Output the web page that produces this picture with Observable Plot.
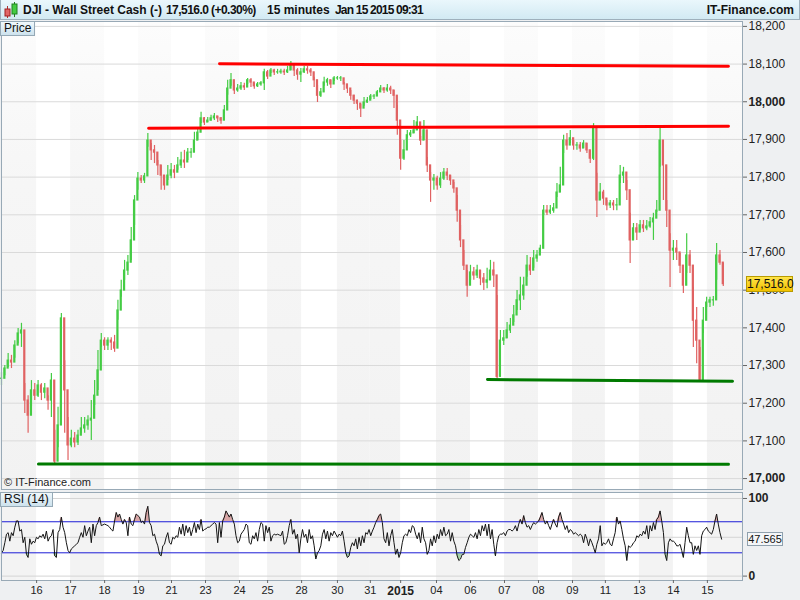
<!DOCTYPE html>
<html><head><meta charset="utf-8">
<script src="https://cdn.jsdelivr.net/npm/d3@7"></script>
<script src="https://cdn.jsdelivr.net/npm/@observablehq/plot@0.6"></script>
<style>
body{margin:0;background:#fff;}
#wrap{position:relative;width:800px;height:600px;overflow:hidden;background:#eef0f2;font-family:"Liberation Sans",Arial,sans-serif;color:#111;}
#title{position:absolute;left:0;top:0;width:798px;height:19px;border:1px solid #9eb0bc;border-top:none;background:linear-gradient(#eaf7fc,#d2eaf3);font-weight:bold;font-size:12px;}
#title span{position:absolute;top:3px;white-space:nowrap;}
.tag{position:absolute;font-size:12px;background:linear-gradient(#f0f8fc,#cde2ed);border:1px solid #95a9b6;padding:0 3px;line-height:13px;}
.abs{position:absolute;}
#pricebox{position:absolute;left:746px;width:45px;height:14px;background:linear-gradient(#ffe44a,#f2c200);border:1px solid #b89b00;font-size:12px;line-height:14px;text-align:center;}
#rsibox{position:absolute;left:747px;width:34px;height:12px;background:#f4f6f8;border:1px solid #8fa0ad;font-size:11px;line-height:12px;text-align:center;}
</style></head>
<body>
<div id="wrap">
  <div id="price" class="abs" style="left:0;top:20px"></div>
  <div id="rsi" class="abs" style="left:0;top:490px"></div>
  <div id="title">
    <svg class="abs" style="left:3px;top:2px" width="14" height="16">
      <line x1="3.5" y1="4" x2="3.5" y2="16" stroke="#b03030"/><rect x="1" y="7" width="5" height="7" fill="#e06666" stroke="#a02020"/>
      <line x1="10.5" y1="0" x2="10.5" y2="15" stroke="#208020"/><rect x="8" y="2" width="5" height="10" fill="#44cc44" stroke="#208020"/>
    </svg>
    <span style="left:22px">DJI - Wall Street Cash (-)</span>
    <span style="left:165px;letter-spacing:-0.55px">17,516.0 (+0.30%)</span>
    <span style="left:266px">15 minutes</span>
    <span style="left:334px;letter-spacing:-0.8px">Jan 15 2015 09:31</span>
    <span style="right:5px">IT-Finance.com</span>
  </div>
  <div class="tag" style="left:0;top:21px">Price</div>
  <div class="abs" style="left:4px;top:476px;font-size:11px;color:#222">© IT-Finance.com</div>
  <div class="tag" style="left:0;top:492px">RSI (14)</div>
  <div id="pricebox">17,516.0</div>
  <div id="rsibox">47.565</div>
</div>
<script>
// ---- data: 15-minute bars; price sampled every 9 bars, RSI every 4.5 bars ----
const sessionLabels = ["16","17","18","19","21","23","24","25","28","30","31","2015","04","06","07","08","09","11","13","14","15"];
const sessionStartBar = [95,187,279,371,460,552,644,720,812,909,998,1080,1177,1269,1361,1453,1545,1634,1726,1818,1910];
const lastBar = 2005;
const sampleStep = 9;
const rsiStep = 4.5;
const closes = [17265,17292,17313,17308,17353,17385,17393,17207,17167,17234,
17220,17247,17228,17239,17207,17260,17045,17141,17425,17234,
17088,17106,17096,17114,17133,17141,17154,17159,17220,17287,
17366,17353,17366,17361,17345,17446,17499,17552,17573,17632,
17738,17796,17791,17802,17897,17871,17865,17831,17804,17778,
17804,17818,17812,17831,17844,17839,17865,17865,17897,17918,
17956,17945,17950,17956,17961,17956,17950,17977,18035,18057,
18030,18035,18041,18038,18057,18051,18041,18046,18049,18078,
18067,18083,18078,18078,18080,18078,18083,18099,18083,18072,
18078,18086,18083,18078,18057,18016,18025,18051,18057,18046,
18062,18062,18062,18046,18035,18016,18003,17995,17982,17998,
18003,18014,18014,18025,18035,18030,18035,18030,18016,17950,
17849,17871,17911,17916,17924,17945,17897,17924,17831,17791,
17796,17778,17796,17812,17804,17791,17770,17711,17632,17565,
17512,17547,17539,17552,17531,17520,17526,17552,17539,17270,
17366,17372,17393,17406,17433,17473,17486,17512,17565,17552,
17584,17592,17610,17711,17706,17711,17717,17759,17778,17897,
17884,17903,17884,17884,17876,17889,17871,17849,17929,17738,
17759,17743,17725,17730,17725,17725,17804,17812,17765,17632,
17664,17653,17672,17664,17669,17680,17690,17711,17897,17831,
17711,17605,17610,17600,17565,17512,17592,17565,17419,17366,
17262,17419,17467,17473,17473,17592,17573,17516];
const highs = [17281,17300,17332,17327,17366,17398,17412,17252,17220,17260,
17252,17260,17252,17252,17220,17279,17128,17189,17438,17313,
17162,17128,17122,17128,17162,17162,17167,17207,17260,17340,
17385,17374,17374,17374,17380,17473,17526,17579,17592,17666,
17751,17812,17804,17810,17916,17889,17884,17844,17831,17804,
17831,17836,17831,17852,17866,17871,17876,17876,17919,17929,
17972,17958,17958,17964,17969,17961,17958,17990,18057,18075,
18043,18046,18051,18049,18062,18062,18049,18051,18054,18086,
18083,18088,18086,18086,18086,18086,18094,18107,18099,18088,
18088,18094,18094,18088,18065,18043,18035,18065,18062,18057,
18067,18067,18067,18051,18043,18030,18017,18004,17993,18011,
18011,18019,18019,18030,18043,18038,18046,18041,18030,17990,
17897,17897,17924,17924,17950,17961,17908,17950,17852,17812,
17807,17802,17812,17823,17823,17804,17786,17751,17672,17605,
17552,17566,17560,17566,17552,17544,17558,17579,17574,17486,
17393,17393,17414,17425,17459,17499,17534,17534,17592,17587,
17605,17605,17619,17725,17725,17725,17730,17783,17826,17911,
17916,17924,17897,17892,17892,17897,17889,17871,17942,17810,
17783,17765,17738,17738,17738,17743,17831,17826,17791,17704,
17677,17677,17685,17685,17685,17693,17704,17738,17932,17871,
17738,17650,17632,17632,17597,17544,17650,17605,17507,17454,
17348,17454,17481,17481,17483,17624,17605,17571];
const lows = [17247,17273,17295,17292,17319,17358,17348,17173,17120,17189,
17207,17215,17207,17212,17181,17162,17040,17082,17321,17120,
17048,17082,17082,17088,17120,17120,17128,17101,17194,17234,
17348,17340,17340,17340,17335,17420,17481,17526,17539,17579,
17672,17765,17783,17783,17879,17844,17836,17804,17765,17765,
17791,17796,17796,17818,17823,17823,17844,17850,17884,17897,
17942,17937,17945,17948,17950,17945,17940,17969,18017,18041,
18019,18025,18030,18030,18046,18038,18033,18038,18041,18030,
18059,18075,18070,18073,18073,18070,18075,18083,18067,18057,
18051,18075,18073,18067,18038,17998,18011,18041,18041,18035,
18054,18057,18054,18030,18022,18004,17993,17977,17958,17988,
17996,18006,18006,18014,18030,18022,18025,18019,17982,17911,
17818,17844,17903,17905,17916,17924,17884,17897,17812,17733,
17765,17765,17770,17791,17791,17778,17757,17680,17613,17552,
17481,17526,17526,17531,17512,17499,17504,17526,17507,17265,
17327,17353,17372,17385,17414,17446,17446,17473,17534,17539,
17558,17574,17600,17698,17698,17701,17704,17746,17759,17863,
17871,17889,17871,17871,17866,17876,17863,17836,17844,17693,
17738,17725,17711,17717,17711,17711,17783,17783,17738,17571,
17632,17632,17658,17653,17658,17664,17632,17706,17826,17738,
17666,17507,17579,17579,17544,17491,17544,17544,17348,17305,
17255,17385,17454,17454,17457,17526,17566,17510];
const rsiValues = [30,33,43,54,56,45,56,52,63,71,
71,58,60,43,50,28,24,48,41,45,
43,50,48,52,50,54,48,58,45,50,
52,60,26,24,56,60,76,63,56,43,
33,30,35,37,39,41,43,50,56,50,
65,52,58,63,43,67,52,65,69,76,
65,66,67,66,65,63,60,58,71,82,
76,80,73,67,73,69,52,76,67,65,
73,80,78,76,69,71,67,82,90,69,
65,52,54,45,39,28,26,39,41,50,
56,43,41,50,48,52,50,63,54,67,
52,65,56,63,52,60,69,56,67,60,
73,58,60,61,63,63,65,67,69,67,
43,69,50,71,76,84,80,76,80,73,
67,52,43,45,54,57,60,67,65,43,
41,52,48,56,45,60,69,67,45,65,
56,63,45,52,54,53,54,53,52,58,
41,43,52,65,73,54,60,48,54,30,
48,60,50,54,43,60,48,52,39,22,
30,33,39,54,60,48,58,45,56,52,
58,54,50,54,52,58,45,30,24,26,
37,43,39,48,35,50,39,52,43,56,
54,60,
52,58,63,69,73,78,80,69,48,43,
56,39,52,60,43,28,35,24,30,43,
52,54,52,60,56,65,63,54,48,56,
43,63,48,43,28,33,48,39,52,43,
54,48,60,52,63,52,54,60,45,56,
45,39,26,20,22,28,28,37,43,50,
54,52,50,56,48,60,52,65,58,67,
52,67,48,60,41,26,43,52,54,54,
56,52,58,60,60,58,60,65,58,67,
73,67,78,69,63,65,60,65,69,67,
69,71,76,82,73,67,71,65,60,67,
73,67,63,76,82,73,67,60,65,56,
60,58,54,56,54,52,54,52,43,54,
48,39,48,43,37,30,41,48,65,39,
43,41,43,48,41,39,48,56,76,67,
71,60,48,39,20,39,37,39,43,45,
52,50,54,52,58,54,65,48,65,58,
69,60,73,76,84,71,56,28,20,43,
48,45,45,43,39,39,41,33,24,43,
63,52,43,43,28,39,33,39,28,52,
58,60,63,58,56,54,60,71,80,67,
56,47.565];
const lastPrice = 17516.0;
const priceTicks = [17100,17200,17300,17400,17500,17600,17700,17800,17900,18100,18200];
const priceTicksBold = [17000,18000];
// support / resistance lines: [bar, price]
const resistHigh = [[590,18101],[1967,18094]];
const resistLow = [[398,17930],[1967,17935]];
const supportHigh = [[1315,17263],[1978,17258]];
const supportLow = [[100,17039],[1967,17038]];
// shaded background per session (first entry: partial session before the first label)
const shadedBands = [true,false,true,false,true,false,true,false,true,false,true,true,false,true,false,true,false,true,false,true,false,true];

// ---- derived tables ----
const candles = closes.map((c,i)=>({bar:i*sampleStep, open: i? closes[i-1]: c, close:c, high:highs[i], low:lows[i]}));
const rsiData = rsiValues.map((v,i)=>({bar:i*rsiStep, v}));
const bounds = [0, ...sessionStartBar, lastBar];
const bands = [];
for (let k=0;k<bounds.length-1;k++) if (shadedBands[k]) bands.push({x1:bounds[k], x2:bounds[k+1]});
const labelOf = new Map(sessionStartBar.map((b,i)=>[b, sessionLabels[i]]));
const font = '"Liberation Sans", Arial, sans-serif';
const toPts = a => a.map(([bar,p])=>({bar,p}));
const upColor = "#44cc44", downColor = "#e06262";
const candleColor = d => d.close>=d.open?upColor:downColor;

const defs = () => {
  const d = d3.create("svg:defs");
  const g = d.append("linearGradient").attr("id","bandGrad").attr("x1",0).attr("y1",0).attr("x2",0).attr("y2",1);
  g.append("stop").attr("offset","0%").attr("stop-color","#fcfcfc");
  g.append("stop").attr("offset","35%").attr("stop-color","#f6f6f6");
  g.append("stop").attr("offset","100%").attr("stop-color","#f2f2f2");
  return d.node();
};

const priceChart = Plot.plot({
  width:800, height:470, marginTop:1, marginBottom:1, marginLeft:1, marginRight:58,
  style:{background:"transparent", fontFamily:font, fontSize:"12px", color:"#222"},
  x:{domain:[0,lastBar], axis:null},
  y:{domain:[16971,18213], axis:null},
  marks:[
    defs,
    Plot.frame({fill:"white", stroke:null}),
    Plot.rect(bands,{x1:"x1", x2:"x2", fill:"url(#bandGrad)"}),
    Plot.gridY([...priceTicks,...priceTicksBold],{stroke:"#dadada", strokeOpacity:1}),
    Plot.ruleX(candles,{x:"bar", y1:"low", y2:"high", stroke:candleColor, strokeWidth:1.2}),
    Plot.rect(candles,{x1:d=>d.bar-3, x2:d=>d.bar+3, y1:"open", y2:"close", insetTop:-0.6, insetBottom:-0.6, fill:candleColor}),
    Plot.line(toPts(resistHigh),{x:"bar", y:"p", stroke:"#ff0000", strokeWidth:3}),
    Plot.line(toPts(resistLow),{x:"bar", y:"p", stroke:"#ff0000", strokeWidth:3}),
    Plot.line(toPts(supportHigh),{x:"bar", y:"p", stroke:"#007a00", strokeWidth:3}),
    Plot.line(toPts(supportLow),{x:"bar", y:"p", stroke:"#007a00", strokeWidth:3}),
    Plot.frame({stroke:"#98a9b6"}),
    Plot.axisY(priceTicks,{anchor:"right", label:null, tickSize:4, tickPadding:2, tickFormat:d3.format(","), fontSize:12, stroke:"#666"}),
    Plot.axisY(priceTicksBold,{anchor:"right", label:null, tickSize:4, tickPadding:2, tickFormat:d3.format(","), fontSize:12, fontWeight:"bold", stroke:"#666"})
  ]
});
document.getElementById("price").append(priceChart);

const rsiChart = Plot.plot({
  width:800, height:110, marginTop:2, marginBottom:20, marginLeft:1, marginRight:58,
  style:{background:"transparent", fontFamily:font, fontSize:"11px", color:"#222"},
  x:{domain:[0,lastBar], axis:null},
  y:{domain:[-5.67,107.7], axis:null},
  marks:[
    Plot.frame({fill:"white", stroke:null}),
    Plot.rect(bands,{x1:"x1", x2:"x2", fill:"#f3f3f3"}),
    Plot.gridY([0,50,100],{stroke:"#d4d4d4", strokeOpacity:1}),
    Plot.areaY(rsiData,{x:"bar", y1:70, y2:d=>Math.max(70,d.v), fill:"#d9a6a6"}),
    Plot.areaY(rsiData,{x:"bar", y1:30, y2:d=>Math.min(30,d.v), fill:"#a6d2a6"}),
    Plot.ruleY([30,70],{stroke:"#1c1cd6", strokeWidth:1}),
    Plot.line(rsiData,{x:"bar", y:"v", stroke:"#151515", strokeWidth:1}),
    Plot.frame({stroke:"#98a9b6"}),
    Plot.axisY([0,100],{anchor:"right", label:null, tickSize:4, tickPadding:2, fontSize:12, fontWeight:"bold", stroke:"#666"}),
    Plot.axisX(sessionStartBar.filter(b=>labelOf.get(b)!=="2015"),{anchor:"bottom", label:null, tickSize:3, tickPadding:3, tickFormat:d=>labelOf.get(d), fontSize:11, stroke:"#666"}),
    Plot.axisX(sessionStartBar.filter(b=>labelOf.get(b)==="2015"),{anchor:"bottom", label:null, tickSize:3, tickPadding:3, tickFormat:d=>labelOf.get(d), fontSize:12, fontWeight:"bold", stroke:"#666"})
  ]
});
document.getElementById("rsi").append(rsiChart);

// value tags positioned through the plots' own scales
const py = priceChart.scale("y").apply(lastPrice) + 20;
document.getElementById("pricebox").style.top = (py - 8) + "px";
const ry = rsiChart.scale("y").apply(rsiValues[rsiValues.length-1]) + 490;
document.getElementById("rsibox").style.top = (ry - 7) + "px";
</script>
</body></html>
